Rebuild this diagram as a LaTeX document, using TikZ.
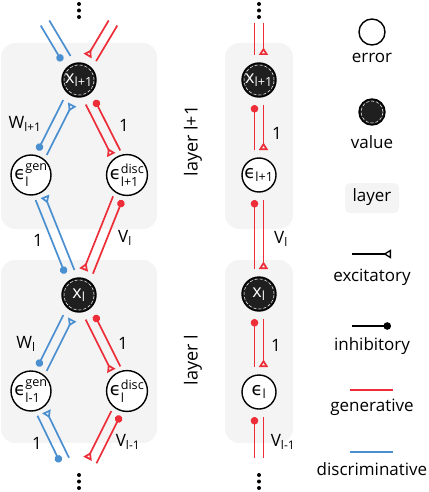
\documentclass[tikz,border=0pt]{standalone}
\usepackage{amsmath}
\usepackage{fontspec}
\setmainfont{Open Sans}
\newfontfamily\epsfont{DejaVu Sans}
\usepackage{tikz}
\usetikzlibrary{arrows.meta,calc}

\definecolor{genred}{RGB}{237,45,56}
\definecolor{discblue}{RGB}{74,144,208}
\definecolor{layergray}{RGB}{244,244,244}

\newcommand{\xv}[1]{$\text{x}_{\text{#1}}$}
\newcommand{\ev}[2]{$\text{\epsfont ϵ}^{\text{#1}}_{\text{#2}}$}

\tikzset{
  every node/.style={font=\fontsize{17}{20}\selectfont},
  errnode/.style={circle, draw, line width=1.4pt, fill=white, minimum size=#1, inner sep=0pt, font=\fontsize{18}{20}\selectfont},
  errnode/.default=34pt,
  valnode/.style={circle, draw, line width=1.4pt, fill=black!88, text=white, minimum size=#1, inner sep=0pt, font=\fontsize{18}{20}\selectfont,
    path picture={\draw[white, densely dashed, line width=0.5pt] (path picture bounding box.center) circle ({#1/2-2pt});}},
  valnode/.default=34pt,
  layerbox/.style={fill=layergray, rounded corners=14pt},
  gen/.style={genred, line width=1.7pt},
  disc/.style={discblue, line width=1.7pt},
  inh/.tip={Circle[length=7.5pt]},
  exc/.tip={Triangle[open, reversed, length=7.5pt, width=9pt]},
}

\begin{document}
\begin{tikzpicture}[x=1pt, y=-1pt]
    \useasboundingbox (0,0) rectangle (428,492);
    % layers
    \fill[layerbox] (1,43) rectangle (157,229);
    \fill[layerbox] (1,260) rectangle (157,443);
    \fill[layerbox] (225,43) rectangle (293,229);
    \fill[layerbox] (225,260) rectangle (293,443);
    \node[rotate=90, font=\fontsize{18}{20}\selectfont] (lay1) at (193,141) {layer l+1};
    \node[rotate=90, font=\fontsize{18}{20}\selectfont] (lay0) at (193,360) {layer l};

    % left column
    \node[valnode] (xa) at (79,80) {\xv{l+1}};
    \node[errnode] (eg1) at (31,175) {\ev{gen}{l}};
    \node[errnode] (ed1) at (127,175) {\ev{disc}{l+1}};
    \node[valnode] (xb) at (79,295) {\xv{l}};
    \node[errnode] (eg0) at (31,391) {\ev{gen}{l-1}};
    \node[errnode] (ed0) at (127,391) {\ev{disc}{l}};
    \coordinate (gtop) at (45,23);
    \coordinate (dtop) at (113,23);
    \coordinate (gbot) at (64.5,460);
    \coordinate (dbot) at (92,461);

    % middle column
    \node[valnode] (ma) at (259,80) {\xv{l+1}};
    \node[errnode] (me1) at (259,175) {$\text{\epsfont ϵ}_{\text{l+1}}$};
    \node[valnode] (mb) at (259,294) {\xv{l}};
    \node[errnode] (me0) at (259,392) {$\text{\epsfont ϵ}_{\text{l}}$};
    \coordinate (mtop) at (259,23);
    \coordinate (mbot) at (259,458);

    % discriminative pairs
    \foreach \a/\b/\sa/\sb/\tl/\tr in {gtop/xa/0pt/25pt/-inh/-, xa/eg1/25pt/25pt/-inh/exc-, eg1/xb/25pt/25pt/-inh/exc-, xb/eg0/25pt/25pt/-inh/exc-, eg0/gbot/25pt/0pt/-inh/exc-}{
      \draw[disc, arrows/.expanded=\tl, shorten <=\sa, shorten >=\sb] ($(\a)!5pt!-90:(\b)$) -- ($(\b)!5pt!90:(\a)$);
      \draw[disc, arrows/.expanded=\tr, shorten <=\sa, shorten >=\sb] ($(\a)!5pt!90:(\b)$) -- ($(\b)!5pt!-90:(\a)$);
    }
    % generative pairs
    \foreach \a/\b/\sa/\sb/\tl/\tr in {dtop/xa/0pt/25pt/-exc/-, xa/ed1/25pt/25pt/-exc/inh-, ed1/xb/25pt/25pt/-exc/inh-, xb/ed0/25pt/25pt/-exc/inh-, ed0/dbot/25pt/0pt/-exc/inh-}{
      \draw[gen, arrows/.expanded=\tl, shorten <=\sa, shorten >=\sb] ($(\a)!5pt!-90:(\b)$) -- ($(\b)!5pt!90:(\a)$);
      \draw[gen, arrows/.expanded=\tr, shorten <=\sa, shorten >=\sb] ($(\a)!5pt!90:(\b)$) -- ($(\b)!5pt!-90:(\a)$);
    }
    \foreach \a/\b/\sa/\sb/\tl/\tr in {mtop/ma/0pt/25pt/-/-exc, ma/me1/25pt/25pt/inh-/-exc, me1/mb/25pt/25pt/inh-/-exc, mb/me0/25pt/25pt/inh-/-exc, me0/mbot/25pt/0pt/inh-/-}{
      \draw[gen, arrows/.expanded=\tl, shorten <=\sa, shorten >=\sb] ($(\a)!4.5pt!-90:(\b)$) -- ($(\b)!4.5pt!90:(\a)$);
      \draw[gen, arrows/.expanded=\tr, shorten <=\sa, shorten >=\sb] ($(\a)!4.5pt!90:(\b)$) -- ($(\b)!4.5pt!-90:(\a)$);
    }

    % weights
    \node (w1) at (25,124) {W$_{\text{l+1}}$};
    \node (w0) at (26,344) {W$_{\text{l}}$};
    \node (one1) at (124,125) {1};
    \node (one2) at (38,240) {1};
    \node (one3) at (123,343) {1};
    \node (one4) at (37,443) {1};
    \node (v1) at (125,238) {V$_{\text{l}}$};
    \node (v0) at (128,442) {V$_{\text{l-1}}$};
    \node (mone1) at (277,133) {1};
    \node (mone0) at (276,345) {1};
    \node (mv1) at (281,239) {V$_{\text{l}}$};
    \node (mv0) at (283,442) {V$_{\text{l-1}}$};

    % dots
    \foreach \x in {79,259}{
      \foreach \y in {4,10.5,17,475,481.5,488}
        \fill (\x,\y) circle (2pt);
    }

    % legend
    \node[errnode=26pt] (lerr) at (372,32) {};
    \node (terr) at (372,58) {error};
    \node[valnode=26pt] (lval) at (372,112) {};
    \node (tval) at (372,142) {value};
    \fill[layergray, rounded corners=5pt] (345,183) rectangle (399,213);
    \node (tlay) at (372,197) {layer};
    \coordinate (ea) at (352,254);
    \coordinate (eb) at (391,254);
    \draw[line width=1.3pt, -exc] (ea) -- (eb);
    \node (texc) at (372,277) {excitatory};
    \coordinate (ia) at (352,326);
    \coordinate (ib) at (391,326);
    \draw[line width=1.3pt, -inh] (ia) -- (ib);
    \node (tinh) at (372,346) {inhibitory};
    \coordinate (ga) at (350,390);
    \coordinate (gb) at (393,390);
    \draw[gen] (ga) -- (gb);
    \node (tgen) at (372,407) {generative};
    \coordinate (da) at (350,452);
    \coordinate (db) at (393,452);
    \draw[disc] (da) -- (db);
    \node (tdisc) at (372,469) {discriminative};
\end{tikzpicture}
\end{document}
